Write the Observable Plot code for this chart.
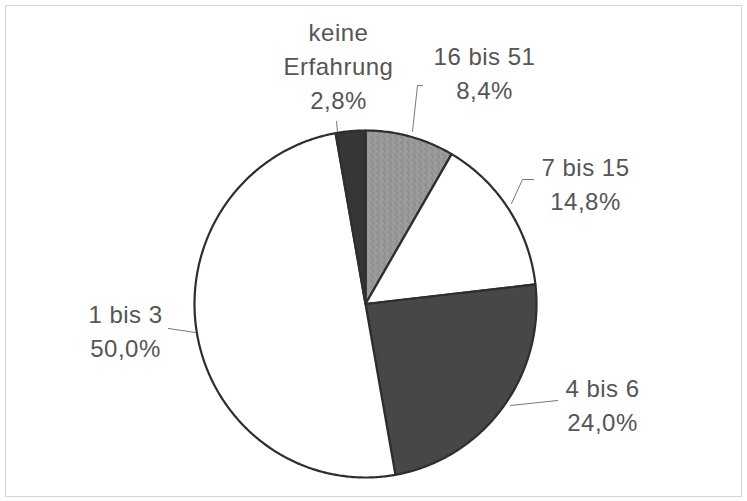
<!DOCTYPE html>
<html>
<head>
<meta charset="utf-8">
<script src="https://cdn.jsdelivr.net/npm/d3@7"></script>
<script src="https://cdn.jsdelivr.net/npm/@observablehq/plot@0.6"></script>
<style>
  html, body { margin: 0; padding: 0; background: #fff; }
  #chart svg { display: block; }
</style>
</head>
<body>
<div id="chart"></div>
<script>
// ---- data ----
const categories = ["16 bis 51", "7 bis 15", "4 bis 6", "1 bis 3", "keine Erfahrung"];
const shares = [8.4, 14.8, 24.0, 50.0, 2.8];
const sliceColors = ["url(#speckle)", "#ffffff", "#474747", "#ffffff", "#363636"];

// ---- layout (pixels) ----
const W = 747, H = 501;
const CX = 365, CY = 303.5, RX = 171, RY = 173.5;
const ux = px => (px - CX) / RX;
const uy = py => (CY - py) / RY;
// label block: center x, cap-top y of first line
const labelPos = {
  "16 bis 51": [484, 40],
  "7 bis 15": [585, 151],
  "4 bis 6": [602, 372],
  "1 bis 3": [125, 298],
  "keine Erfahrung": [338, 16]
};
const leaderPts = {
  "16 bis 51": [[422, 85], [417, 85], [412, 131]],
  "7 bis 15": [[533, 179], [522, 179], [511, 203]],
  "4 bis 6": [[557, 400], [510, 405]],
  "1 bis 3": [[168, 328], [195, 332]],
  "keine Erfahrung": [[336, 121], [337, 131]]
};

// ---- build slices ----
const rows = categories.map((c, i) => ({category: c, value: shares[i], color: sliceColors[i]}));
const arcs = d3.pie().sort(null).value(d => d.value).startAngle(0).endAngle(2 * Math.PI)(rows);
const slicePts = [];
arcs.forEach(a => {
  const n = Math.max(4, Math.ceil((a.endAngle - a.startAngle) / 0.01));
  slicePts.push({k: a.data.category, color: a.data.color, x: 0, y: 0});
  for (let j = 0; j <= n; j++) {
    const t = a.startAngle + (a.endAngle - a.startAngle) * j / n;
    slicePts.push({k: a.data.category, color: a.data.color, x: Math.sin(t), y: Math.cos(t)});
  }
  slicePts.push({k: a.data.category, color: a.data.color, x: 0, y: 0});
});

const fmt = v => v.toFixed(1).replace(".", ",") + "%";
const labelRows = rows.map(r => ({
  text: r.category.replace("keine ", "keine\n") + "\n" + fmt(r.value),
  x: ux(labelPos[r.category][0]),
  y: uy(labelPos[r.category][1])
}));
const leaderRows = [];
categories.forEach(c => leaderPts[c].forEach(p => leaderRows.push({k: c, x: ux(p[0]), y: uy(p[1])})));

const chart = Plot.plot({
  width: W,
  height: H,
  marginLeft: 5, marginTop: 5, marginRight: 6, marginBottom: 5,
  x: {domain: [-1, 1], range: [CX - RX, CX + RX], axis: null},
  y: {domain: [-1, 1], range: [CY + RY, CY - RY], axis: null},
  color: {type: "identity"},
  marks: [
    Plot.frame({stroke: "#d6d6d6", strokeWidth: 1}),
    Plot.line(slicePts, {x: "x", y: "y", z: "k", fill: "color", stroke: "#2e2e2e", strokeWidth: 2.2, strokeLinejoin: "round", curve: "linear"}),
    Plot.line(leaderRows, {x: "x", y: "y", z: "k", stroke: "#777", strokeWidth: 1}),
    Plot.text(labelRows, {
      x: "x", y: "y", text: "text",
      lineAnchor: "top", lineHeight: 1.42,
      fontSize: 24, fill: "#555", textAnchor: "middle",
      fontFamily: "Liberation Sans, Arial, sans-serif"
    })
  ]
});
// speckled texture for the grey slice
const ns = "http://www.w3.org/2000/svg";
const defs = document.createElementNS(ns, "defs");
const pat = document.createElementNS(ns, "pattern");
pat.setAttribute("id", "speckle");
pat.setAttribute("patternUnits", "userSpaceOnUse");
pat.setAttribute("width", "6");
pat.setAttribute("height", "6");
let inner = '<rect width="6" height="6" fill="#979797"/>';
const dots = [[0,0,"#7a7a7a"],[3,1,"#b0b0b0"],[1,3,"#a8a8a8"],[4,4,"#808080"],[5,2,"#8a8a8a"],[2,5,"#b4b4b4"],[4,0,"#a0a0a0"],[0,4,"#888"]];
dots.forEach(([x, y, c]) => inner += `<rect x="${x}" y="${y}" width="1" height="1" fill="${c}"/>`);
pat.innerHTML = inner;
defs.appendChild(pat);
chart.insertBefore(defs, chart.firstChild);
chart.querySelectorAll("text").forEach(t => t.setAttribute("letter-spacing", "0.5"));
document.getElementById("chart").appendChild(chart);
</script>
</body>
</html>
